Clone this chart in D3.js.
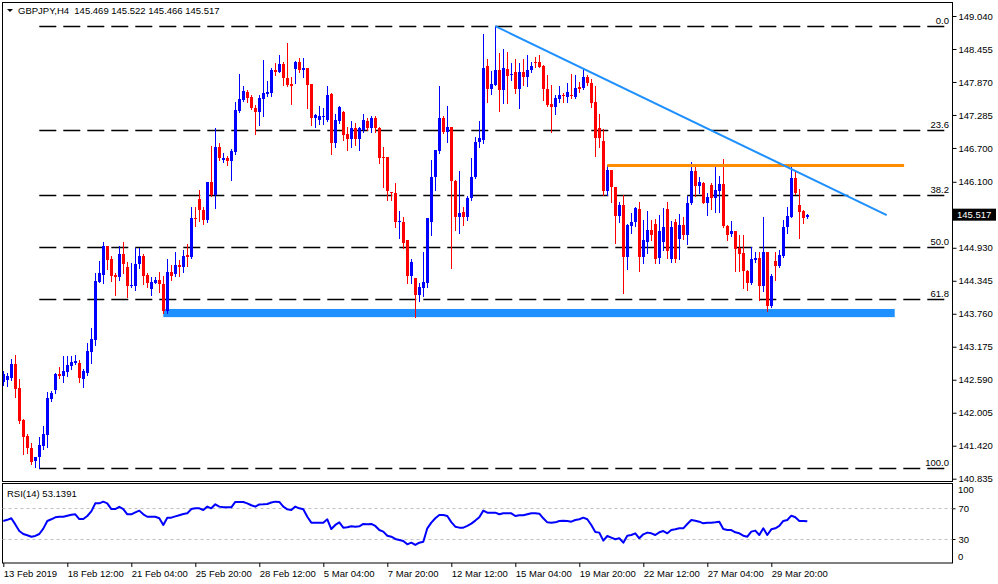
<!DOCTYPE html>
<html><head><meta charset="utf-8">
<script src="https://cdn.jsdelivr.net/npm/d3@7"></script>
<style>
body{margin:0;background:#fff}
svg{display:block}
text{font-family:"Liberation Sans",Arial,sans-serif;font-size:9.5px;fill:#000}
</style>
</head><body><svg id="c" width="998" height="584"></svg>
<script>
// ---------------- data ----------------
const symbolLabel = "GBPJPY,H4";
const lastQuote = [145.469, 145.522, 145.466, 145.517];
// OHLC per H4 bar
const candles = [
[142.55,142.75,142.50,142.70],[142.58,142.71,142.48,142.65],[142.62,142.96,142.59,142.87],[142.87,143.03,142.28,142.43],
[142.44,142.60,141.82,141.86],[141.88,141.90,141.27,141.58],[141.59,141.63,141.29,141.38],[141.38,141.47,141.10,141.13],
[141.15,141.22,141.04,141.22],[141.22,141.58,141.03,141.43],[141.41,141.77,141.36,141.63],[141.61,142.37,141.40,142.27],
[142.25,142.39,142.21,142.36],[142.40,142.71,142.36,142.69],[142.69,142.82,142.62,142.66],[142.66,143.01,142.55,142.75],
[142.73,143.01,142.66,142.85],[142.83,143.01,142.78,142.91],[142.89,143.03,142.87,142.92],[142.89,142.94,142.55,142.62],
[142.60,142.78,142.46,142.75],[142.71,143.24,142.67,143.10],[143.08,143.51,142.89,143.31],[143.30,144.48,143.21,144.34],
[144.32,144.70,144.32,144.48],[144.45,145.03,144.31,144.96],[144.96,144.96,144.55,144.71],[144.73,144.78,144.34,144.43],
[144.45,144.48,144.09,144.41],[144.41,144.96,144.36,144.82],[144.82,145.03,144.48,144.64],[144.59,144.68,144.06,144.25],
[144.25,144.66,144.23,144.27],[144.26,144.93,144.18,144.64],[144.64,144.93,144.57,144.79],[144.78,144.82,144.29,144.43],
[144.45,144.48,144.23,144.30],[144.20,144.41,144.09,144.32],[144.30,144.41,144.30,144.36],[144.36,144.50,144.15,144.29],
[144.29,144.43,143.77,143.81],[143.81,144.73,143.77,144.50],[144.50,144.63,144.36,144.43],[144.47,144.86,144.43,144.63],
[144.63,144.71,144.43,144.59],[144.59,144.89,144.50,144.79],[144.80,145.00,144.61,144.77],[144.77,145.65,144.75,145.46],
[145.46,145.66,145.32,145.44],[145.80,145.96,145.40,145.60],[145.60,145.66,145.35,145.42],[145.42,146.10,145.39,146.10],
[146.10,146.74,145.84,145.87],[145.87,147.05,145.63,146.72],[146.72,146.79,146.49,146.52],[146.49,146.61,146.45,146.52],
[146.53,146.56,146.39,146.46],[146.46,146.69,146.13,146.65],[146.63,147.51,146.59,147.37],[147.36,148.02,147.33,147.57],
[147.55,147.79,147.53,147.71],[147.70,147.73,147.52,147.59],[147.60,147.64,147.39,147.41],[147.41,147.46,146.95,147.34],
[147.34,147.64,147.11,147.59],[147.57,148.26,147.27,147.68],[147.66,147.88,147.63,147.69],[147.68,148.12,147.62,148.08],
[148.08,148.20,147.99,148.05],[148.05,148.35,148.04,148.19],[148.19,148.22,147.82,147.94],[147.94,148.56,147.80,147.82],
[147.83,147.96,147.48,147.80],[148.10,148.24,147.86,148.23],[148.23,148.30,148.05,148.08],[148.09,148.30,147.96,148.11],
[148.11,148.12,147.41,147.82],[147.83,147.83,147.10,147.24],[147.24,147.30,147.08,147.28],[147.20,147.44,147.12,147.27],
[147.26,147.40,147.13,147.27],[147.20,147.79,147.17,147.64],[147.65,147.67,146.59,146.78],[146.78,147.31,146.72,147.20],
[147.17,147.45,147.14,147.43],[147.33,147.36,146.84,146.93],[146.95,147.07,146.66,146.85],[146.85,147.17,146.71,147.05],
[147.05,147.14,146.76,146.85],[146.85,147.08,146.66,147.05],[147.02,147.30,146.99,147.20],[147.17,147.24,147.02,147.05],
[147.05,147.26,146.99,147.23],[147.24,147.26,146.99,147.06],[147.06,147.08,146.44,146.53],[146.54,146.72,146.00,146.52],
[146.54,146.54,145.78,145.94],[145.92,145.92,145.78,145.90],[145.90,146.07,145.29,145.38],[145.38,145.58,145.10,145.40],
[145.39,145.48,144.92,145.02],[145.06,145.06,144.30,144.43],[144.43,144.73,144.30,144.67],[144.40,144.40,143.71,144.09],
[144.09,144.30,143.98,144.23],[144.21,144.86,144.07,144.33],[144.30,145.45,144.24,145.45],[145.39,146.49,145.16,146.18],
[146.18,146.66,145.95,146.66],[146.64,147.79,146.61,147.23],[147.23,147.26,146.96,146.99],[146.99,147.44,146.81,147.07],
[147.07,147.08,144.57,146.12],[146.12,146.13,145.25,145.48],[145.48,146.30,145.19,145.54],[145.57,145.66,145.33,145.48],
[145.48,145.84,145.42,145.81],[145.81,146.52,145.78,146.18],[146.18,146.90,146.16,146.81],[146.81,147.17,146.72,146.87],
[146.84,148.72,146.79,148.11],[148.15,148.27,147.52,147.75],[147.74,148.07,147.66,147.83],[147.82,148.86,147.82,148.08],
[148.09,148.38,147.36,147.73],[147.73,148.45,147.49,148.11],[148.10,148.40,147.50,147.98],[147.99,148.21,147.91,148.02],
[148.05,148.27,147.67,147.75],[147.75,148.21,147.40,148.05],[148.05,148.27,147.82,147.96],[147.96,148.35,147.79,148.09],
[148.08,148.23,148.05,148.15],[148.23,148.32,148.14,148.20],[148.23,148.35,148.14,148.14],[148.15,148.17,147.55,147.74],
[147.74,148.00,147.44,147.46],[147.48,147.82,146.99,147.43],[147.43,147.64,147.30,147.58],[147.57,147.79,147.52,147.64],
[147.64,147.68,147.52,147.62],[147.61,147.85,147.52,147.70],[147.64,148.02,147.58,147.62],[147.61,148.00,147.58,147.76],
[147.78,147.87,147.70,147.75],[147.76,148.11,147.75,147.96],[147.96,148.00,147.82,147.85],[147.85,147.93,147.42,147.50],
[147.52,147.79,146.55,146.87],[147.05,147.30,146.72,146.87],[146.83,147.03,145.87,145.93],[145.93,146.40,145.87,146.31],
[146.31,146.31,145.75,146.00],[146.00,146.01,145.02,145.49],[145.49,145.75,145.39,145.69],[145.69,145.87,144.12,144.76],
[144.76,145.35,144.55,145.33],[145.31,145.54,145.19,145.39],[145.38,145.65,145.31,145.63],[145.62,145.75,144.51,144.76],
[144.76,145.42,144.66,145.07],[145.04,145.59,144.83,145.25],[145.25,145.42,145.07,145.16],[145.36,145.44,144.66,144.73],
[144.75,145.51,144.66,145.23],[145.03,145.63,144.89,145.29],[145.62,145.74,144.74,144.87],[144.73,145.41,144.67,145.29],
[145.39,145.44,144.67,144.73],[145.08,145.53,144.73,145.33],[145.33,145.48,145.08,145.16],[145.15,145.84,145.00,145.73],
[145.72,146.45,145.71,146.30],[146.30,146.38,145.84,146.03],[146.03,146.19,145.90,146.09],[146.07,146.10,145.72,145.73],
[145.73,145.90,145.51,145.83],[146.04,146.07,145.62,145.82],[145.82,146.37,145.56,145.96],[145.94,146.20,145.57,146.06],
[146.06,146.50,145.29,145.32],[145.32,145.33,145.07,145.16],[145.17,145.40,145.14,145.23],[145.22,145.23,144.51,144.91],
[144.92,145.16,144.51,144.82],[144.83,145.16,144.22,144.51],[144.52,144.54,144.18,144.31],[144.30,144.94,144.28,144.73],
[144.71,144.86,144.68,144.75],[144.75,144.86,144.01,144.26],[144.26,145.48,144.17,144.86],[144.86,144.86,143.81,143.90],
[143.90,144.47,143.88,144.43],[144.70,144.86,144.36,144.60],[144.60,144.89,144.59,144.80],[144.78,145.42,144.77,145.30],
[145.29,145.65,145.20,145.49],[145.48,146.38,145.48,146.17],[146.17,146.30,145.88,145.90],[145.69,145.97,145.10,145.57],
[145.58,145.60,145.37,145.46],[145.469,145.522,145.466,145.517]
];
const rsiValues = [
53.5,55,57,49,40.4,36.5,34.8,33,34,36.5,43.5,53.5,55.7,58.3,59,59,60.4,61.7,62.2,56,
56,60,66,76.5,76.5,78.7,76.5,69,69,72,69,62.2,62.2,64.8,67,62.2,59,59,59,57,
48.3,57.8,57.8,59.5,61,62.6,63.5,69,70,70,67.8,72.2,70,75.2,72.2,71.3,71.3,71.3,78.3,78.3,
78.3,76.5,74,72.2,75,75.2,75.7,77.5,78.7,78.3,72.2,68.7,67.8,72.2,70,68.7,59,51.3,51.3,51.3,
51.3,55.7,43,48.3,51.7,44.8,45.2,46.5,46,46.5,49.6,49.2,49.6,47,41.7,39.6,34.3,33,30,28.7,
27.4,23,25.2,22.2,25.2,26.5,43.9,51.3,57,61.3,61.3,60,52,46,44.8,44.8,47,50,54,58.3,
67,64.3,64.3,64.3,62.2,63.5,63.5,63.5,60,60.9,60.9,62.2,63.5,63.5,63,57,51.7,51.3,51.7,53.5,
53.9,53.5,52.6,54.8,55.7,57.8,55.7,48.3,39.1,38.3,27.8,33.9,31.7,29.6,30.9,25.2,34.3,35.2,37.4,30.9,
36.1,38.3,37.4,35.2,38.7,40.4,37.4,41.7,42.6,43.9,43.9,49.6,54.8,53.9,52.6,50.4,51.3,51.3,51.7,52.6,
43,41.7,41.7,38.7,37.4,34.3,33,39.6,40.9,35.2,43.9,35.2,42.6,43.9,47,53.5,54.8,60.4,58.3,53.5,
53.5,53.1391
];
const rsiLabel = "RSI(14) 53.1391";
const priceTicks = [149.040,148.455,147.870,147.285,146.700,146.100,144.930,144.345,143.760,143.175,142.590,142.005,141.420,140.835];
const lastPrice = 145.517;
const rsiTicks = [70,30];
const rsiEdgeLabels = ["100", "0"];
const rsiLevels = [70,30];
const dateTickIndex = [0,16,32,48,64,80,96,112,128,144,160,176,192];
const dateTickLabels = ["13 Feb 2019","18 Feb 12:00","21 Feb 04:00","25 Feb 20:00","28 Feb 12:00","5 Mar 04:00","7 Mar 20:00","12 Mar 12:00","15 Mar 04:00","19 Mar 20:00","22 Mar 12:00","27 Mar 04:00","29 Mar 20:00"];
// Fibonacci retracement anchors (bar index, price)
const fibHigh = 148.86, fibLow = 141.03, fibStartIndex = 9;
const fibLevels = [0, 23.6, 38.2, 50.0, 61.8, 100.0];
// trend line (bar index, price)
const trendLine = [[123, 148.86], [220.85, 145.51]];
// resistance line
const resistance = {from: 151, to: 225.2, price: 146.39};
// support zone
const support = {from: 40, to: 222.85, top: 143.845, bottom: 143.70};

// ---------------- layout ----------------
const svg = d3.select("#c");
const P = {left: 2.5, right: 952.5, top: 2.5, bottom: 481.5, rTop: 483.5, rBottom: 563};
const x = d3.scaleLinear().domain([0, 201]).range([3.3, 807.3]);
const y = d3.scaleLinear().domain([140.835, 149.040]).range([478.7, 16]);
const ry = d3.scaleLinear().domain([0, 100]).range([562, 485.3]);
const BULL = "#0000ff", BEAR = "#ff0000";

// fib lines
const fg = svg.append("g");
fibLevels.forEach(l => {
  const p = fibHigh - (fibHigh - fibLow) * l / 100;
  const yy = Math.round(y(p)) + 0.5;
  fg.append("line").attr("x1", x(fibStartIndex)).attr("x2", 950).attr("y1", yy).attr("y2", yy)
    .attr("stroke", "#000").attr("stroke-width", 1.6).attr("stroke-dasharray", "17,7");
  fg.append("text").attr("x", 949).attr("y", yy - 2.5).attr("text-anchor", "end").text(d3.format(".1f")(l));
});

// support zone
svg.append("rect").attr("x", x(support.from)).attr("width", x(support.to) - x(support.from))
  .attr("y", y(support.top)).attr("height", y(support.bottom) - y(support.top)).attr("fill", "#1e90ff");

// candles
const cg = svg.append("g");
candles.forEach((c, i) => {
  const [o, h, l, cl] = c;
  const col = cl >= o ? BULL : BEAR;
  const cx = Math.round(x(i));
  cg.append("line").attr("x1", cx + 0.5).attr("x2", cx + 0.5)
    .attr("y1", Math.round(y(h))).attr("y2", Math.round(y(l)) + 1)
    .attr("stroke", col).attr("stroke-width", 1);
  const yt = Math.round(y(Math.max(o, cl))), yb = Math.round(y(Math.min(o, cl)));
  cg.append("rect").attr("x", cx - 1).attr("width", 3).attr("y", yt)
    .attr("height", Math.max(1, yb - yt)).attr("fill", col);
});

// resistance line
svg.append("line").attr("x1", x(resistance.from)).attr("x2", x(resistance.to))
  .attr("y1", y(resistance.price)).attr("y2", y(resistance.price))
  .attr("stroke", "#ff8c00").attr("stroke-width", 3);

// trend line
svg.append("line").attr("x1", x(trendLine[0][0])).attr("y1", y(trendLine[0][1]))
  .attr("x2", x(trendLine[1][0])).attr("y2", y(trendLine[1][1]))
  .attr("stroke", "#1e90ff").attr("stroke-width", 2);

// frames
svg.append("rect").attr("x", P.left).attr("y", P.top).attr("width", P.right - P.left).attr("height", P.bottom - P.top)
  .attr("fill", "none").attr("stroke", "#000");
svg.append("rect").attr("x", P.left).attr("y", P.rTop).attr("width", P.right - P.left).attr("height", P.rBottom - P.rTop)
  .attr("fill", "none").attr("stroke", "#000");

// price axis
const pa = svg.append("g").attr("transform", `translate(${P.right},0)`)
  .call(d3.axisRight(y).tickValues(priceTicks).tickFormat(d3.format(".3f")).tickSize(4).tickPadding(2));
pa.select(".domain").remove();
pa.selectAll("text").style("font-family", "Liberation Sans, Arial, sans-serif").style("font-size", "9.5px");

// last price tag
const ly = y(lastPrice);
svg.append("rect").attr("x", 953).attr("y", ly - 6).attr("width", 43).attr("height", 12).attr("fill", "#000");
svg.append("text").attr("x", 957).attr("y", ly + 3.5).style("fill", "#fff")
  .text(d3.format(".3f")(lastPrice));

// header
svg.append("path").attr("d", "M7,9L13,9L10,12Z").attr("fill", "#000");
svg.append("text").attr("x", 18).attr("y", 14).style("white-space", "pre")
  .text(symbolLabel + "  " + lastQuote.map(d3.format(".3f")).join(" "));

// RSI
rsiLevels.forEach(v => {
  svg.append("line").attr("x1", P.left).attr("x2", P.right).attr("y1", Math.round(ry(v)) + 0.5).attr("y2", Math.round(ry(v)) + 0.5)
    .attr("stroke", "#c0c0c0").attr("stroke-dasharray", "3,3");
});
svg.append("path").datum(rsiValues)
  .attr("d", d3.line().x((d, i) => x(i)).y(d => ry(d)))
  .attr("fill", "none").attr("stroke", "#0000ff").attr("stroke-width", 2).attr("stroke-linejoin", "round");
svg.append("text").attr("x", 7).attr("y", 497).text(rsiLabel);

const ra = svg.append("g").attr("transform", `translate(${P.right},0)`)
  .call(d3.axisRight(ry).tickValues(rsiTicks).tickSize(3).tickPadding(3));
ra.select(".domain").remove();
ra.selectAll("text").style("font-family", "Liberation Sans, Arial, sans-serif").style("font-size", "9.5px");

// edge labels (100 / 0) sit inside the panel
const edge = svg.append("g").attr("class", "rsi-edge");
edge.append("text").attr("x", 958).attr("y", ry(100) + 7.5).style("fill", "#000").text(rsiEdgeLabels[0]);
edge.append("text").attr("x", 958).attr("y", ry(0) - 2).style("fill", "#000").text(rsiEdgeLabels[1]);

// date axis
const da = svg.append("g").attr("transform", `translate(0,${P.rBottom})`)
  .call(d3.axisBottom(x).tickValues(dateTickIndex).tickFormat((d, k) => dateTickLabels[k]).tickSize(4).tickPadding(3));
da.select(".domain").remove();
da.selectAll("text").attr("text-anchor", "start").attr("x", 0)
  .style("font-family", "Liberation Sans, Arial, sans-serif").style("font-size", "9.5px");
</script>
</body></html>
